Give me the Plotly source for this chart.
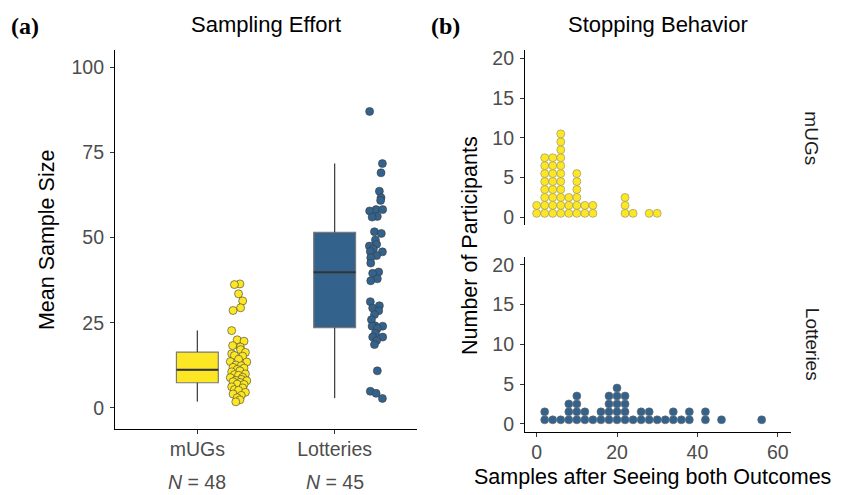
import plotly.graph_objects as go

W, H = 856, 495

# ---------------- data ----------------
categories = ["mUGs", "Lotteries"]
n_labels = ["<i>N</i> = 48", "<i>N</i> = 45"]

mugs_vals = [36.4, 36.2, 33.5, 31.4, 29.4, 28.6, 22.7, 20.0, 19.6, 18.3, 17.9, 17.1,
             16.3, 15.9, 15.4, 15.2, 14.3, 13.6, 13.5, 12.6, 12.4, 11.9, 11.7, 11.3,
             10.9, 10.6, 10.0, 9.8, 9.6, 9.0, 8.9, 8.4, 8.1, 8.0, 7.7, 7.5,
             7.0, 6.9, 6.2, 5.9, 5.4, 5.2, 4.6, 4.1, 3.7, 3.0, 2.4, 1.8]
mugs_jitter = [0.31, 0.27, 0.30, 0.33, 0.315, 0.26, 0.25, 0.29, 0.34, 0.257, 0.313, 0.315,
               0.35, 0.25, 0.27, 0.33, 0.30, 0.24, 0.36, 0.28, 0.32, 0.26, 0.34, 0.29,
               0.31, 0.25, 0.35, 0.27, 0.30, 0.33, 0.24, 0.32, 0.28, 0.36, 0.26, 0.31,
               0.29, 0.34, 0.25, 0.33, 0.27, 0.30, 0.35, 0.26, 0.32, 0.29, 0.31, 0.28]

lot_vals = [87.0, 71.7, 69.0, 63.6, 61.7, 60.9, 58.2, 58.2, 57.8, 56.2, 56.0, 51.7,
            51.2, 49.3, 48.0, 47.5, 46.6, 45.9, 45.8, 44.7, 44.1, 42.5, 39.9, 39.5,
            37.9, 37.3, 31.2, 30.0, 29.3, 28.5, 27.4, 25.9, 24.1, 24.0, 24.0, 23.3,
            21.9, 20.8, 20.8, 19.8, 18.6, 10.9, 4.9, 4.3, 2.8]
lot_jitter = [0.255, 0.348, 0.338, 0.326, 0.338, 0.335, 0.302, 0.35, 0.255, 0.311, 0.273, 0.29,
              0.34, 0.297, 0.306, 0.253, 0.282, 0.26, 0.348, 0.306, 0.263, 0.263, 0.321, 0.277,
              0.311, 0.263, 0.26, 0.326, 0.277, 0.321, 0.29, 0.268, 0.295, 0.273, 0.35, 0.311,
              0.297, 0.277, 0.35, 0.306, 0.29, 0.311, 0.26, 0.302, 0.348]

box_q1 = [7.4, 23.6]
box_median = [11.2, 39.8]
box_q3 = [16.4, 51.5]
box_lower = [1.9, 2.9]
box_upper = [22.7, 71.7]

# stopping behaviour dot plots (x = samples, n = number of participants in the stack)
mugs_stop_x = [0, 2, 4, 6, 8, 10, 12, 14, 22, 24, 28, 30]
mugs_stop_n = [2, 8, 8, 11, 3, 6, 2, 2, 3, 1, 1, 1]
lot_stop_x = [2, 4, 6, 8, 10, 12, 14, 16, 18, 20, 22, 24, 26, 28, 30, 32, 34, 36, 38, 42, 46, 56]
lot_stop_n = [2, 1, 1, 3, 4, 2, 1, 2, 4, 5, 4, 1, 2, 2, 1, 1, 2, 1, 2, 2, 1, 1]

# ---------------- styling ----------------
YELLOW = "#FDE725"
BLUE = "#33638D"
colors = [YELLOW, BLUE]
FONT = "Liberation Sans, Arial, sans-serif"
TICKC = "#4d4d4d"
BOXW = 0.305


def px_x(p):
    return p / W


def px_y(p):
    return 1 - p / H


fig = go.Figure()

# ---- panel (a): boxes ----
for i, cat in enumerate(categories):
    xc = i + 1
    fig.add_trace(go.Box(
        x=[xc], q1=[box_q1[i]], median=[box_median[i]], q3=[box_q3[i]],
        lowerfence=[box_lower[i]], upperfence=[box_upper[i]],
        width=BOXW, whiskerwidth=0, fillcolor=colors[i],
        line=dict(color="#7a7a7a", width=1.2), boxpoints=False,
        showlegend=False, hoverinfo="skip", xaxis="x", yaxis="y"))
    # whiskers (dark)
    fig.add_trace(go.Scatter(
        x=[xc, xc, None, xc, xc],
        y=[box_lower[i], box_q1[i], None, box_q3[i], box_upper[i]],
        mode="lines", line=dict(color="#333333", width=0.9),
        showlegend=False, hoverinfo="skip", xaxis="x", yaxis="y"))
    # median (dark)
    fig.add_trace(go.Scatter(
        x=[xc - BOXW / 2, xc + BOXW / 2], y=[box_median[i], box_median[i]],
        mode="lines", line=dict(color="#333333", width=2),
        showlegend=False, hoverinfo="skip", xaxis="x", yaxis="y"))

# ---- panel (a): jittered points ----
for i, (vals, jit) in enumerate([(mugs_vals, mugs_jitter), (lot_vals, lot_jitter)]):
    fig.add_trace(go.Scatter(
        x=[i + 1 + j for j in jit], y=vals, mode="markers",
        marker=dict(size=8, color=colors[i], line=dict(color="#3a3a3a", width=0.6)),
        showlegend=False, xaxis="x", yaxis="y"))

# ---- panel (b): dot plots ----
def stack(xs, ns):
    px, py = [], []
    for x, n in zip(xs, ns):
        for k in range(n):
            px.append(x)
            py.append(k + 0.5)
    return px, py

tx, ty = stack(mugs_stop_x, mugs_stop_n)
fig.add_trace(go.Scatter(x=tx, y=ty, mode="markers",
                         marker=dict(size=8, color=YELLOW, line=dict(color="#8a8a70", width=0.6)),
                         showlegend=False, xaxis="x3", yaxis="y3"))
bx, by = stack(lot_stop_x, lot_stop_n)
fig.add_trace(go.Scatter(x=bx, y=by, mode="markers",
                         marker=dict(size=8, color=BLUE, line=dict(color="#6a6a6a", width=0.6)),
                         showlegend=False, xaxis="x2", yaxis="y2"))

axis_common = dict(showline=True, linecolor="black", linewidth=1.2, ticks="outside",
                   ticklen=4, tickwidth=1, tickcolor="#333333", showgrid=False, zeroline=False,
                   tickfont=dict(family=FONT, size=19.5, color=TICKC))
xstand = dict(ticklabelstandoff=-1)
ystand = dict(ticklabelstandoff=2)

fig.update_layout(
    width=W, height=H, margin=dict(l=0, r=0, t=0, b=0),
    paper_bgcolor="white", plot_bgcolor="white",
    font=dict(family=FONT, color="black"),
    xaxis=dict(domain=[px_x(115), px_x(417)], range=[0.4, 2.6], anchor="y",
               tickvals=[1, 2], ticktext=categories, **axis_common, **xstand),
    yaxis=dict(domain=[px_y(431), px_y(48)], range=[-6.1, 104.9], anchor="x",
               tickvals=[0, 25, 50, 75, 100], **axis_common, **ystand),
    xaxis2=dict(domain=[px_x(525), px_x(791)], range=[-2.9, 63.3], anchor="y2",
                tickvals=[0, 20, 40, 60], **axis_common, **xstand),
    yaxis2=dict(domain=[px_y(434), px_y(257)], range=[-1, 21], anchor="x2",
                tickvals=[0, 5, 10, 15, 20], **axis_common, **ystand),
    xaxis3=dict(domain=[px_x(525), px_x(791)], range=[-2.9, 63.3], anchor="y3",
                matches="x2", showline=False, showticklabels=False, ticks="",
                showgrid=False, zeroline=False),
    yaxis3=dict(domain=[px_y(225), px_y(48)], range=[-1, 21], anchor="x3",
                tickvals=[0, 5, 10, 15, 20], **axis_common, **ystand),
)

ann = []
ann.append(dict(text="<b>(a)</b>", x=px_x(9), y=px_y(23), xref="paper", yref="paper",
                xanchor="left", yanchor="middle", showarrow=False,
                font=dict(family="Liberation Serif, Times New Roman, serif", size=24, color="black")))
ann.append(dict(text="<b>(b)</b>", x=px_x(429), y=px_y(23), xref="paper", yref="paper",
                xanchor="left", yanchor="middle", showarrow=False,
                font=dict(family="Liberation Serif, Times New Roman, serif", size=24, color="black")))
ann.append(dict(text="Sampling Effort", x=px_x(266), y=px_y(22), xref="paper", yref="paper",
                xanchor="center", yanchor="middle", showarrow=False,
                font=dict(family=FONT, size=22, color="black")))
ann.append(dict(text="Stopping Behavior", x=px_x(658), y=px_y(22), xref="paper", yref="paper",
                xanchor="center", yanchor="middle", showarrow=False,
                font=dict(family=FONT, size=22, color="black")))
ann.append(dict(text="Mean Sample Size", x=px_x(47), y=px_y(240), xref="paper", yref="paper",
                xanchor="center", yanchor="middle", textangle=-90, showarrow=False,
                font=dict(family=FONT, size=21.5, color="black")))
ann.append(dict(text="Number of Participants", x=px_x(470), y=px_y(246), xref="paper", yref="paper",
                xanchor="center", yanchor="middle", textangle=-90, showarrow=False,
                font=dict(family=FONT, size=21.5, color="black")))
ann.append(dict(text="Samples after Seeing both Outcomes", x=px_x(652), y=px_y(480),
                xref="paper", yref="paper", xanchor="center", yanchor="middle", showarrow=False,
                font=dict(family=FONT, size=21.5, color="black")))
ann.append(dict(text="mUGs", x=px_x(812), y=px_y(137), xref="paper", yref="paper",
                xanchor="center", yanchor="middle", textangle=90, showarrow=False,
                font=dict(family=FONT, size=19, color="#1a1a1a")))
ann.append(dict(text="Lotteries", x=px_x(812), y=px_y(345), xref="paper", yref="paper",
                xanchor="center", yanchor="middle", textangle=90, showarrow=False,
                font=dict(family=FONT, size=19, color="#1a1a1a")))
for i, lab in enumerate(n_labels):
    ann.append(dict(text=lab, x=i + 1, y=px_y(485), xref="x", yref="paper",
                    xanchor="center", yanchor="middle", showarrow=False,
                    font=dict(family=FONT, size=19.5, color=TICKC)))
fig.update_layout(annotations=ann)

fig.write_html("out.html", config={"displayModeBar": False},
               post_script="document.body.style.margin='0';document.body.style.padding='0';")
